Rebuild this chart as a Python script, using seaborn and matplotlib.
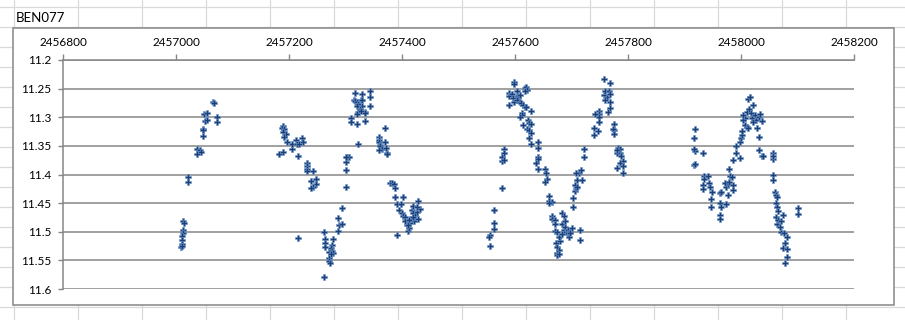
import numpy as np
import pandas as pd
import matplotlib
matplotlib.use("Agg")
import matplotlib.pyplot as plt
import seaborn as sns
from matplotlib.patches import Rectangle

title = "BEN077"
x_ticks = [2456800, 2457000, 2457200, 2457400, 2457600, 2457800, 2458000, 2458200]
y_ticks = [11.2, 11.25, 11.3, 11.35, 11.4, 11.45, 11.5, 11.55, 11.6]
y_labels = ["11.2", "11.25", "11.3", "11.35", "11.4", "11.45", "11.5", "11.55", "11.6"]

# Season 1
jd_s1 = [2457012, 2457014, 2457012, 2457012, 2457011, 2457011, 2457011, 2457009, 2457011,
         2457022, 2457022, 2457038, 2457042, 2457038, 2457044, 2457047, 2457048, 2457047,
         2457051, 2457050, 2457055, 2457055, 2457066, 2457068, 2457073, 2457073]
mag_s1 = [11.481, 11.485, 11.497, 11.502, 11.507, 11.514, 11.521, 11.527, 11.525,
          11.405, 11.413, 11.356, 11.357, 11.365, 11.360, 11.333, 11.321, 11.323,
          11.307, 11.295, 11.293, 11.304, 11.273, 11.275, 11.300, 11.309]

# Season 2
jd_s2 = [2457190, 2457187, 2457192, 2457189, 2457195, 2457191, 2457196, 2457183, 2457190, 2457205,
         2457206, 2457213, 2457215, 2457217, 2457223, 2457224, 2457216, 2457232, 2457232, 2457232,
         2457232, 2457243, 2457247, 2457239, 2457247, 2457242, 2457239, 2457216,
         2457262, 2457264, 2457264, 2457264, 2457277, 2457276, 2457275, 2457271, 2457276, 2457277,
         2457274, 2457271, 2457271, 2457273, 2457262, 2457287, 2457288, 2457294, 2457287, 2457293,
         2457300, 2457300, 2457301, 2457303, 2457307, 2457301,
         2457316, 2457315, 2457317, 2457321, 2457323, 2457320, 2457328, 2457330, 2457330, 2457330,
         2457325, 2457323, 2457321, 2457334, 2457335, 2457327, 2457343, 2457344, 2457343, 2457310,
         2457310, 2457321, 2457335, 2457323,
         2457370, 2457359, 2457360, 2457359, 2457361, 2457361, 2457364, 2457359, 2457370, 2457373,
         2457374, 2457371,
         2457379, 2457382, 2457386, 2457388, 2457388, 2457401, 2457392, 2457398, 2457394, 2457400,
         2457402, 2457405, 2457406, 2457409, 2457410, 2457413, 2457414, 2457415, 2457417, 2457419,
         2457420, 2457423, 2457426, 2457429, 2457431, 2457429, 2457421, 2457417, 2457412, 2457392,
         2457426, 2457411, 2457419]
mag_s2 = [11.315, 11.319, 11.321, 11.325, 11.329, 11.335, 11.344, 11.364, 11.361, 11.356,
          11.347, 11.340, 11.347, 11.347, 11.337, 11.344, 11.368, 11.380, 11.385, 11.390,
          11.394, 11.394, 11.407, 11.412, 11.417, 11.422, 11.424, 11.511,
          11.500, 11.513, 11.520, 11.527, 11.513, 11.523, 11.528, 11.535, 11.534, 11.537,
          11.539, 11.546, 11.551, 11.554, 11.579, 11.498, 11.489, 11.487, 11.476, 11.458,
          11.422, 11.392, 11.379, 11.369, 11.370, 11.369,
          11.257, 11.269, 11.271, 11.273, 11.277, 11.280, 11.269, 11.260, 11.270, 11.280,
          11.286, 11.290, 11.295, 11.290, 11.292, 11.289, 11.254, 11.265, 11.280, 11.302,
          11.309, 11.312, 11.306, 11.347,
          11.319, 11.335, 11.340, 11.344, 11.349, 11.351, 11.355, 11.357, 11.343, 11.363,
          11.364, 11.354,
          11.414, 11.414, 11.417, 11.423, 11.440, 11.440, 11.452, 11.452, 11.462, 11.468,
          11.473, 11.474, 11.482, 11.488, 11.498, 11.494, 11.485, 11.477, 11.462, 11.455,
          11.468, 11.471, 11.465, 11.446, 11.460, 11.477, 11.482, 11.478, 11.480, 11.505,
          11.456, 11.488, 11.474]

# Season 3
jd_s3 = [2457555, 2457555, 2457562, 2457562, 2457562, 2457554, 2457577, 2457581, 2457581, 2457577,
         2457577, 2457581,
         2457599, 2457599, 2457590, 2457590, 2457595, 2457597, 2457599, 2457603, 2457603, 2457606,
         2457609, 2457604, 2457590, 2457608, 2457610, 2457617, 2457619, 2457621, 2457618, 2457614,
         2457617, 2457620, 2457612, 2457612, 2457609, 2457614, 2457623, 2457625, 2457628, 2457629,
         2457621, 2457624, 2457628, 2457624, 2457628,
         2457640, 2457641, 2457641, 2457640, 2457638, 2457641, 2457653, 2457655, 2457656, 2457653,
         2457661, 2457660, 2457665, 2457660,
         2457666, 2457666, 2457671, 2457671, 2457671, 2457674, 2457673, 2457675, 2457677, 2457675,
         2457674, 2457678, 2457680, 2457678, 2457683, 2457683, 2457684, 2457687, 2457687, 2457689,
         2457689, 2457690, 2457693, 2457694, 2457696, 2457697, 2457697, 2457700, 2457715, 2457715,
         2457703, 2457703, 2457706, 2457708, 2457707, 2457710, 2457709, 2457713, 2457716, 2457718,
         2457708, 2457723, 2457723,
         2457758, 2457758, 2457769, 2457769, 2457769, 2457760, 2457766, 2457762, 2457768, 2457760,
         2457765, 2457749, 2457749, 2457749, 2457749, 2457742, 2457739, 2457740, 2457747, 2457775,
         2457775, 2457773, 2457776, 2457782, 2457785, 2457785, 2457780, 2457780, 2457787, 2457791,
         2457786, 2457792, 2457792, 2457781]
mag_s3 = [11.506, 11.525, 11.462, 11.484, 11.496, 11.509, 11.424, 11.356, 11.363, 11.369,
          11.376, 11.375,
          11.238, 11.242, 11.257, 11.263, 11.259, 11.267, 11.273, 11.254, 11.263, 11.265,
          11.261, 11.270, 11.279, 11.273, 11.275, 11.249, 11.248, 11.252, 11.254, 11.279,
          11.282, 11.282, 11.292, 11.296, 11.299, 11.314, 11.304, 11.310, 11.289, 11.312,
          11.321, 11.322, 11.328, 11.337, 11.346,
          11.343, 11.353, 11.370, 11.373, 11.380, 11.391, 11.390, 11.398, 11.408, 11.413,
          11.437, 11.446, 11.448, 11.450,
          11.473, 11.477, 11.480, 11.487, 11.498, 11.500, 11.520, 11.526, 11.532, 11.537,
          11.541, 11.538, 11.517, 11.509, 11.504, 11.487, 11.468, 11.473, 11.497, 11.482,
          11.492, 11.500, 11.497, 11.503, 11.509, 11.500, 11.503, 11.494, 11.497, 11.514,
          11.456, 11.441, 11.429, 11.424, 11.418, 11.421, 11.410, 11.397, 11.392, 11.410,
          11.397, 11.356, 11.369,
          11.234, 11.261, 11.240, 11.273, 11.283, 11.254, 11.255, 11.265, 11.259, 11.269,
          11.290, 11.289, 11.294, 11.300, 11.308, 11.295, 11.318, 11.331, 11.324, 11.312,
          11.322, 11.321, 11.329, 11.353, 11.356, 11.363, 11.362, 11.389, 11.368, 11.376,
          11.380, 11.385, 11.398, 11.358]

# Season 4
jd_s4 = [2457919, 2457919, 2457916, 2457916, 2457916, 2457919, 2457932, 2457932, 2457932, 2457935,
         2457935, 2457942, 2457944, 2457946, 2457948, 2457947, 2457947, 2457962, 2457962, 2457964,
         2457964, 2457963, 2457963, 2457973, 2457973, 2457977, 2457977, 2457972, 2457978, 2457981,
         2457984, 2457986, 2457986, 2457986, 2457979, 2457992, 2457991, 2457998, 2457998, 2458000,
         2458002, 2458002, 2458007, 2458007, 2458003, 2458004, 2458010, 2458010, 2458012, 2458016,
         2458015, 2458018, 2458019, 2458022, 2458025, 2458027, 2458028, 2458031, 2458031, 2458034,
         2458037, 2458032, 2458038, 2458013, 2458021,
         2458056, 2458056, 2458057, 2458057, 2458057, 2458039, 2458060, 2458062, 2458062, 2458062,
         2458064, 2458064, 2458063, 2458066, 2458066, 2458070, 2458070, 2458075, 2458069, 2458076,
         2458082, 2458082, 2458078, 2458078, 2458074, 2458081, 2458100, 2458100]
mag_s4 = [11.321, 11.359, 11.337, 11.355, 11.383, 11.382, 11.363, 11.418, 11.426, 11.402,
          11.408, 11.402, 11.415, 11.421, 11.430, 11.443, 11.457, 11.433, 11.450, 11.430,
          11.456, 11.471, 11.478, 11.452, 11.421, 11.436, 11.417, 11.415, 11.413, 11.402,
          11.404, 11.418, 11.427, 11.375, 11.390, 11.363, 11.350, 11.343, 11.371, 11.337,
          11.331, 11.324, 11.314, 11.302, 11.305, 11.296, 11.317, 11.290, 11.268, 11.264,
          11.286, 11.293, 11.302, 11.279, 11.296, 11.305, 11.319, 11.299, 11.357, 11.295,
          11.307, 11.334, 11.368, 11.318, 11.308,
          11.362, 11.373, 11.368, 11.401, 11.410, 11.368, 11.430, 11.436, 11.450, 11.474,
          11.440, 11.487, 11.456, 11.463, 11.480, 11.481, 11.500, 11.471, 11.492, 11.503,
          11.509, 11.544, 11.519, 11.554, 11.529, 11.531, 11.459, 11.469]

df = pd.DataFrame({
    "jd": jd_s1 + jd_s2 + jd_s3 + jd_s4,
    "mag": mag_s1 + mag_s2 + mag_s3 + mag_s4,
})

sns.set_theme(style="white")
plt.rcParams["font.family"] = ["Lato", "DejaVu Sans"]

W, H = 905, 320
fig = plt.figure(figsize=(W / 100, H / 100), dpi=100)
fig.patch.set_facecolor("white")

# spreadsheet background
bg = fig.add_axes([0, 0, 1, 1])
bg.set_xlim(0, W)
bg.set_ylim(H, 0)
bg.axis("off")
for xc in np.arange(14, W, 64):
    bg.axvline(xc, color="#D9D9D9", lw=0.9, zorder=0)
for yc in np.arange(6.7, H, 20):
    bg.axhline(yc, color="#D9D9D9", lw=0.9, zorder=0)
bg.add_patch(Rectangle((12.7, 28.3), 881.6, 277, facecolor="white",
                       edgecolor="#868686", lw=1.1, zorder=1))
bg.text(16, 17.5, title, ha="left", va="center", fontsize=9.5, color="black", zorder=2)

# chart
ax = fig.add_axes([63 / W, 1 - 289 / H, 791 / W, 229 / H])
ax.set_facecolor("none")
sns.scatterplot(data=df, x="jd", y="mag", marker="P", s=13, color="#1F3F73",
                edgecolor="#6A98D2", linewidth=0.4, ax=ax, legend=False, zorder=3)
ax.set_xlim(2456800, 2458200)
ax.set_ylim(11.6, 11.2)
ax.set_xticks(x_ticks)
ax.set_xticklabels([str(v) for v in x_ticks])
ax.set_yticks(y_ticks)
ax.set_yticklabels(y_labels)
ax.xaxis.tick_top()
ax.set_xlabel("")
ax.set_ylabel("")
ax.grid(axis="y", color="#868686", lw=1.1)
ax.grid(axis="x", visible=False)
ax.set_axisbelow(True)
for side in ["right", "bottom"]:
    ax.spines[side].set_visible(False)
for side in ["top", "left"]:
    ax.spines[side].set_visible(True)
    ax.spines[side].set_color("#868686")
    ax.spines[side].set_linewidth(1.1)
ax.tick_params(axis="x", top=True, bottom=False, direction="out", length=4,
               width=1, color="#868686", pad=5, labelsize=8.5, labelcolor="black")
ax.tick_params(axis="y", left=True, direction="out", length=3.5,
               width=1, color="#868686", pad=5, labelsize=8.5, labelcolor="black")

fig.savefig("out.png", dpi=100)
